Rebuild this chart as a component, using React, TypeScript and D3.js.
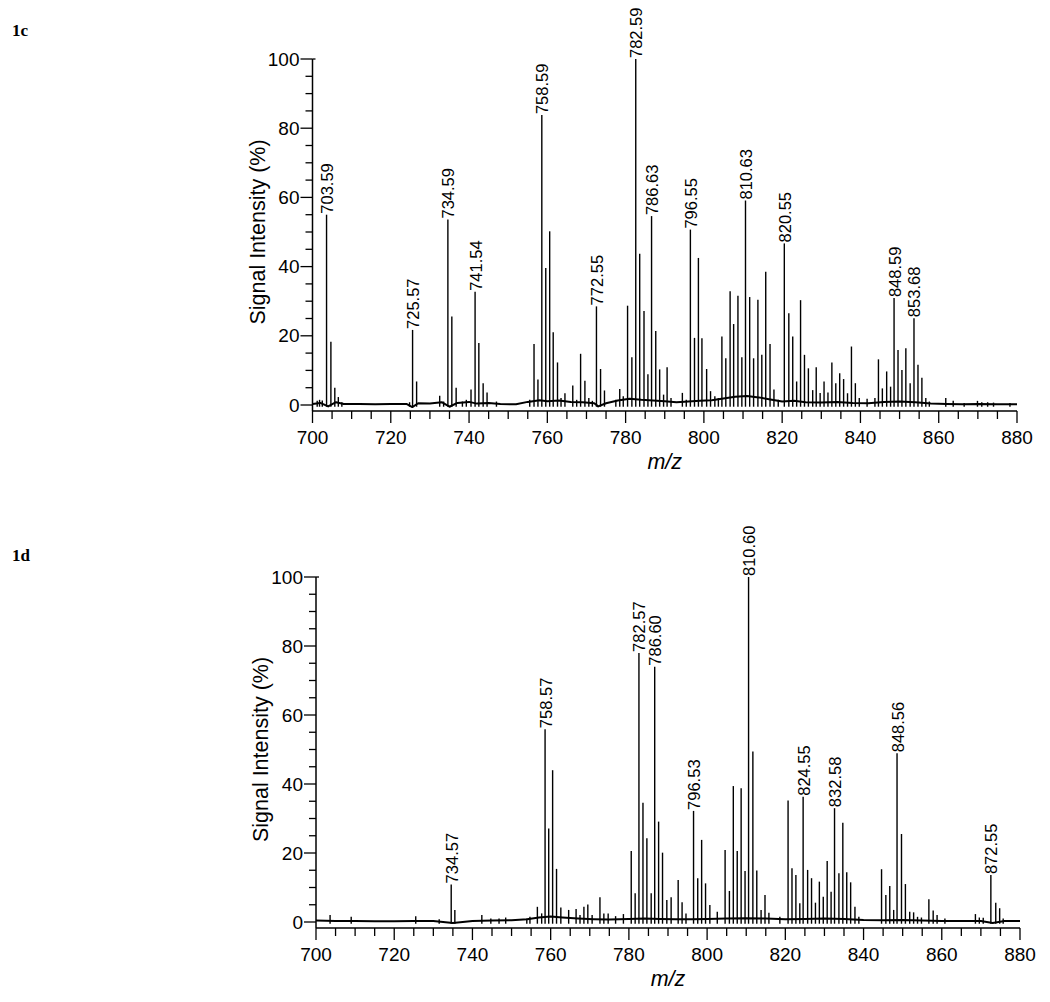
import * as d3 from "d3";

const mzTicks = [700, 720, 740, 760, 780, 800, 820, 840, 860, 880];
const intensityTicks = [0, 20, 40, 60, 80, 100];

// labelled peaks: [m/z, intensity %]
const labelled1c: [number, number][] = [
  [703.59, 55], [725.57, 21.7], [734.59, 53.6], [741.54, 32.7], [758.59, 83.8],
  [772.55, 28.5], [782.59, 100], [786.63, 54.6], [796.55, 50.7], [810.63, 59.1],
  [820.55, 46.7], [848.59, 30.9], [853.68, 25.1],
];

const peaks1c: [number, number][] = [
  [701.2, 1.2], [701.8, 1.5], [702.5, 1.3], [704.7, 18.3], [705.7, 5], [706.6, 2.3], [707.5, 0.8],
  [724.8, 0.8], [726.6, 6.8], [732.5, 2.7], [733.5, 1], [735.6, 25.6], [736.7, 5], [738.3, 1],
  [739.3, 1.5], [740.5, 4.5], [742.5, 17.9], [743.6, 6.3], [744.6, 3.6], [747, 1], [755.5, 1.5],
  [756.6, 17.6], [757.6, 7.4], [759.6, 39.6], [760.6, 50.2], [761.5, 21], [762.6, 12.3], [763.5, 2],
  [764.5, 3.4], [766.5, 5.6], [767.5, 1.5], [768.5, 14.8], [769.6, 7], [770.6, 2], [771.5, 1.2],
  [773.6, 10.4], [774.6, 4.2], [777.5, 1.5], [778.5, 4.6], [779.4, 2.5], [780.5, 28.7], [781.6, 13.8],
  [783.6, 43.7], [784.7, 27.2], [785.7, 8.9], [787.7, 21.4], [788.7, 10.3], [789.7, 3], [790.6, 10.9],
  [791.6, 2], [794.5, 3.5], [795.5, 1.5], [797.6, 19.4], [798.6, 42.5], [799.5, 19.3], [800.7, 10.4],
  [801.7, 4], [802.8, 2.5], [803.7, 2], [804.6, 19.8], [805.6, 13.5], [806.7, 32.9], [807.6, 23.4],
  [808.7, 31.6], [809.7, 13.8], [811.7, 31.2], [812.7, 13.5], [813.8, 30.4], [814.8, 14.5],
  [815.8, 38.5], [816.9, 17.6], [817.9, 4.5], [819, 1.5], [821.7, 26.5], [822.7, 19.8], [823.7, 6.8],
  [824.7, 30.3], [825.7, 14.5], [826.7, 10.6], [827.8, 4.3], [828.7, 10.9], [829.7, 3.5], [830.7, 6.8],
  [831.7, 3.6], [832.7, 12.3], [833.7, 6.3], [834.7, 9.2], [835.7, 7.5], [836.7, 3.4], [837.7, 16.9],
  [838.7, 6.3], [839.7, 2], [841.7, 1.8], [843.7, 2], [844.6, 13.2], [845.6, 4.8], [846.7, 9.7],
  [847.7, 5.3], [849.6, 15.9], [850.6, 10.1], [851.6, 16.4], [852.7, 6.3], [854.7, 11.6], [855.7, 7.9],
  [856.7, 2], [857.6, 1], [861.8, 2], [863.7, 1.2], [866.5, 0.6], [869.9, 1.2], [871, 0.8],
  [872.5, 0.8], [874, 0.7], [878.2, 0.6],
];

const baseline1c: [number, number][] = [
  [700, 0.3], [702, 0.6], [704, -0.4], [706, 0.8], [708, 0.3], [712, 0.3], [716, 0.2], [720, 0.3],
  [724, 0.3], [725.5, -0.6], [727, 0.5], [730, 0.4], [733, 0.8], [735, -0.5], [737, 0.6], [740, 0.9],
  [742, 0.4], [745, 0.6], [748, 0.3], [752, 0.2], [755, 0.9], [758, 1.4], [760, 1.1], [763, 1.3],
  [766, 0.9], [769, 0.8], [772, 0.5], [773, -0.4], [775, 0.5], [778, 1.3], [781, 1.8], [784, 1.5],
  [787, 1.3], [790, 1.1], [793, 0.8], [796, 1.0], [799, 1.2], [802, 1.4], [805, 1.9], [808, 2.4],
  [811, 2.6], [814, 2.2], [817, 1.6], [820, 1.0], [823, 1.2], [826, 0.8], [830, 0.7], [834, 0.9],
  [838, 0.6], [842, 0.5], [846, 0.9], [850, 1.0], [854, 0.8], [858, 0.4], [862, 0.3], [866, 0.2],
  [870, 0.3], [875, 0.2], [880, 0.2],
];

const labelled1d: [number, number][] = [
  [734.57, 10.9], [758.57, 55.9], [782.57, 78], [786.6, 74], [796.53, 32.2], [810.6, 100],
  [824.55, 36.3], [832.58, 33], [848.56, 48.9], [872.55, 13.6],
];

const peaks1d: [number, number][] = [
  [703.6, 2], [709, 1.5], [725.5, 1.7], [731.5, 0.8], [735.5, 3.5], [742.4, 2], [744.7, 1],
  [746.8, 1], [748.5, 1.3], [753.9, 1], [754.7, 1.5], [756.6, 4.4], [757.7, 2.5], [759.5, 27.1],
  [760.5, 44], [761.5, 15.4], [762.6, 4.2], [764.6, 3.5], [766.5, 3.8], [767.5, 2], [768.5, 4.4],
  [769.5, 5.1], [770.6, 2], [772.6, 7.2], [773.6, 2.5], [774.7, 2.5], [776.6, 1.7], [778.6, 2.3],
  [780.6, 20.6], [781.6, 8.3], [783.6, 34.6], [784.6, 24.3], [785.7, 8.3], [787.6, 29.1],
  [788.6, 20.1], [789.7, 6.4], [790.8, 7.2], [792.6, 12.2], [793.6, 5.7], [794.6, 2.5], [797.6, 12.7],
  [798.6, 23.8], [799.6, 11.2], [800.7, 4.9], [802.6, 3], [804.6, 20.9], [805.7, 9], [806.7, 39.4],
  [807.7, 20.6], [808.7, 38.8], [809.7, 14.8], [811.7, 49.4], [812.7, 14.9], [813.8, 3.5],
  [814.8, 7.8], [815.8, 2.7], [818.6, 1.5], [820.7, 35.2], [821.7, 15.6], [822.7, 13.6],
  [823.7, 5.4], [825.7, 15.1], [826.7, 12.7], [827.7, 5.6], [828.7, 11.7], [829.7, 7.3],
  [830.7, 17.7], [831.7, 8.8], [833.7, 14.1], [834.7, 28.8], [835.7, 14.4], [836.7, 11.5],
  [837.8, 4.4], [838.8, 1.5], [844.6, 15.3], [845.7, 7.8], [846.7, 10.4], [847.7, 3.5],
  [849.7, 25.5], [850.7, 11], [851.8, 3], [852.8, 2.8], [853.8, 1.5], [854.8, 1.3], [856.7, 6.6],
  [857.8, 3.3], [858.8, 2], [860.8, 1], [868.6, 2.3], [869.6, 1.3], [870.6, 1.2], [873.8, 5.6],
  [874.8, 4], [875.7, 1],
];

const baseline1d: [number, number][] = [
  [700, 0.4], [705, 0.3], [710, 0.3], [715, 0.2], [720, 0.2], [725, 0.3], [730, 0.3], [735, -0.3],
  [740, 0.3], [745, 0.4], [750, 0.5], [754, 0.8], [757, 1.3], [760, 1.6], [763, 1.3], [767, 1.0],
  [771, 0.8], [775, 0.7], [780, 0.9], [784, 1.0], [788, 0.9], [792, 0.8], [796, 0.8], [800, 0.9],
  [805, 1.0], [810, 1.1], [815, 1.0], [820, 0.8], [825, 0.9], [830, 1.0], [835, 0.9], [840, 0.6],
  [845, 0.5], [850, 0.6], [855, 0.4], [860, 0.3], [865, 0.3], [870, 0.3], [873, -0.3], [876, 0.3],
  [880, 0.3],
];

const SANS = "'Liberation Sans', Arial, Helvetica, sans-serif";

type PanelProps = {
  tag: string;
  tagY: number;
  x0: number;
  x1: number;
  yTop: number;
  yZero: number;
  labelled: [number, number][];
  peaks: [number, number][];
  baseline: [number, number][];
};

function Panel({ tag, tagY, x0, x1, yTop, yZero, labelled, peaks, baseline }: PanelProps) {
  const x = d3.scaleLinear().domain([700, 880]).range([x0, x1]);
  const y = d3.scaleLinear().domain([0, 100]).range([yZero, yTop]);
  const axisY = yZero + 6;
  const minorY = d3.range(0, 101, 5);
  const minorX = d3.range(700, 881, 5);
  const line = d3
    .line<[number, number]>()
    .x((d) => x(d[0]))
    .y((d) => y(d[1]));
  const all = peaks.concat(labelled);

  return (
    <g>
      <text x={12} y={tagY} fontFamily="'Liberation Serif', 'Times New Roman', serif"
        fontWeight="bold" fontSize={17}>{tag}</text>

      {/* spectrum */}
      <path d={line(baseline) || ""} fill="none" stroke="#000" strokeWidth={2} strokeLinejoin="round" />
      {all.map(([mz, v], i) => (
        <line key={i} x1={x(mz)} x2={x(mz)} y1={y(-0.5)} y2={y(v)} stroke="#000" strokeWidth={1.4} />
      ))}
      {labelled.map(([mz, v]) => (
        <text key={mz} transform={`translate(${x(mz) + 0.5},${y(v) - 1}) rotate(-90)`}
          fontFamily={SANS} fontSize={16.5} dominantBaseline="central">{mz.toFixed(2)}</text>
      ))}

      {/* y axis */}
      <line x1={x0} x2={x0} y1={yTop} y2={axisY} stroke="#000" strokeWidth={1.5} />
      {minorY.map((t) => (
        <line key={t} x1={x0 - (t % 20 === 0 ? 12 : 7)} x2={x0} y1={y(t)} y2={y(t)} stroke="#000" strokeWidth={1.3} />
      ))}
      <line x1={x0} x2={x0 + 3} y1={yTop} y2={yTop} stroke="#000" strokeWidth={1.3} />
      {intensityTicks.map((t) => (
        <text key={t} x={x0 - 13} y={y(t)} textAnchor="end" dominantBaseline="central"
          fontFamily={SANS} fontSize={19}>{t}</text>
      ))}
      <text transform={`translate(${x0 - 55},${(yTop + yZero) / 2}) rotate(-90)`} textAnchor="middle"
        dominantBaseline="central" fontFamily={SANS} fontSize={21.5}>Signal Intensity (%)</text>

      {/* x axis */}
      <line x1={x0} x2={x1} y1={axisY} y2={axisY} stroke="#000" strokeWidth={1.5} />
      {minorX.map((t) => (
        <line key={t} x1={x(t)} x2={x(t)} y1={axisY} y2={axisY + (t % 20 === 0 ? 12 : 8)} stroke="#000" strokeWidth={1.3} />
      ))}
      {mzTicks.map((t) => (
        <text key={t} x={x(t)} y={axisY + 33} textAnchor="middle" fontFamily={SANS} fontSize={19}>{t}</text>
      ))}
      <text x={(x0 + x1) / 2} y={axisY + 58} textAnchor="middle" fontFamily={SANS} fontStyle="italic"
        fontSize={21.5}>m/z</text>
    </g>
  );
}

export default function App() {
  return (
    <div style={{ position: "absolute", left: 0, top: 0 }}>
      <svg width={1050} height={1002} style={{ display: "block", background: "#fff" }}>
        <Panel tag="1c" tagY={36} x0={312.5} x1={1017} yTop={59} yZero={405}
          labelled={labelled1c} peaks={peaks1c} baseline={baseline1c} />
        <Panel tag="1d" tagY={561} x0={316} x1={1020} yTop={577} yZero={922}
          labelled={labelled1d} peaks={peaks1d} baseline={baseline1d} />
      </svg>
    </div>
  );
}
